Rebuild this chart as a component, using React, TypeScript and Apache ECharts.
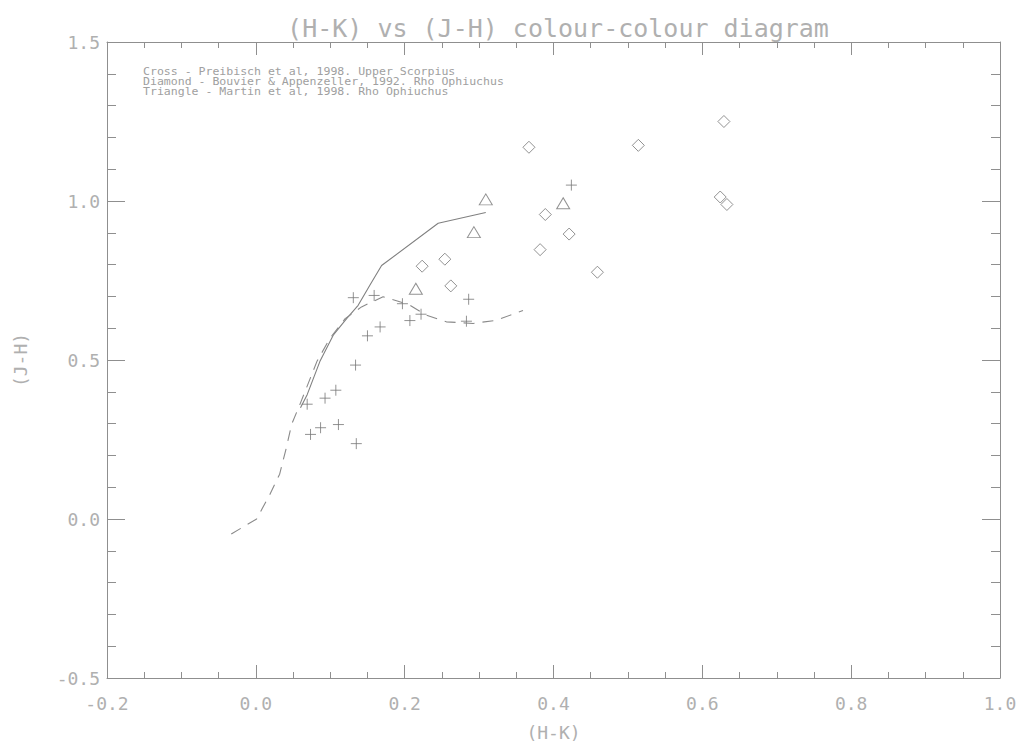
import React, { useEffect, useRef } from "react";
import * as echarts from "echarts";

const titleText = "(H-K) vs (J-H) colour-colour diagram";
const xName = "(H-K)";
const yName = "(J-H)";
const legendLines = [
  "Cross - Preibisch et al, 1998. Upper Scorpius",
  "Diamond - Bouvier & Appenzeller, 1992. Rho Ophiuchus",
  "Triangle - Martin et al, 1998. Rho Ophiuchus",
];

// Preibisch et al 1998 (crosses) [H-K, J-H]
const crosses: number[][] = [
  [0.424, 1.05], [0.286, 0.691], [0.131, 0.696], [0.159, 0.703], [0.197, 0.677],
  [0.222, 0.644], [0.207, 0.624], [0.283, 0.622], [0.167, 0.604], [0.15, 0.576],
  [0.134, 0.484], [0.1075, 0.405], [0.093, 0.38], [0.069, 0.361], [0.111, 0.297],
  [0.087, 0.287], [0.0735, 0.266], [0.135, 0.237],
];

// Bouvier & Appenzeller 1992 (diamonds)
const diamonds: number[][] = [
  [0.629, 1.25], [0.367, 1.169], [0.514, 1.175], [0.624, 1.0125], [0.633, 0.989],
  [0.389, 0.9575], [0.421, 0.896], [0.382, 0.847], [0.459, 0.776], [0.2235, 0.795],
  [0.254, 0.817], [0.262, 0.733],
];

// Martin et al 1998 (triangles)
const triangles: number[][] = [
  [0.309, 1.005], [0.413, 0.993], [0.293, 0.902], [0.215, 0.724],
];

// Giant branch (solid)
const giantLine: number[][] = [
  [0.06, 0.35], [0.069, 0.391], [0.086, 0.495], [0.104, 0.578], [0.122, 0.63],
  [0.1375, 0.672], [0.153, 0.734], [0.169, 0.797], [0.245, 0.93], [0.309, 0.964],
];

// Dwarf sequence (dashed)
const dwarfLine: number[][] = [
  [-0.033, -0.047], [0.001, 0.0], [0.019, 0.078], [0.032, 0.141], [0.041, 0.224],
  [0.048, 0.297], [0.059, 0.359], [0.082, 0.495], [0.0995, 0.568], [0.12, 0.63],
  [0.142, 0.667], [0.171, 0.699], [0.205, 0.675], [0.229, 0.641], [0.256, 0.62],
  [0.292, 0.615], [0.3235, 0.625], [0.359, 0.656],
];

const AXIS = "#8f8f8f";
const TEXT = "#b0b0b0";
const MARK = "#777777";
const MONO = "DejaVu Sans Mono";

export default function App() {
  const ref = useRef<HTMLDivElement>(null);
  useEffect(() => {
    if (!ref.current) return;
    const chart = echarts.init(ref.current, undefined, { renderer: "svg" });
    const xBase: any = {
      type: "value",
      min: -0.2,
      max: 1.0,
      interval: 0.2,
      axisLine: { show: true, onZero: false, lineStyle: { color: AXIS, width: 1 } },
      axisTick: { show: true, inside: true, length: 13, lineStyle: { color: AXIS } },
      minorTick: { show: true, splitNumber: 4, length: 6, lineStyle: { color: AXIS } },
      splitLine: { show: false },
      minorSplitLine: { show: false },
    };
    const yBase: any = {
      type: "value",
      min: -0.5,
      max: 1.5,
      interval: 0.5,
      axisLine: { show: true, onZero: false, lineStyle: { color: AXIS, width: 1 } },
      axisTick: { show: true, inside: true, length: 18, lineStyle: { color: AXIS } },
      minorTick: { show: true, splitNumber: 5, length: 9, lineStyle: { color: AXIS } },
      splitLine: { show: false },
      minorSplitLine: { show: false },
    };
    const labelStyle = {
      color: TEXT,
      fontFamily: MONO,
      fontSize: 18,
      formatter: (v: number) => v.toFixed(1),
    };
    chart.setOption({
      animation: false,
      backgroundColor: "#ffffff",
      title: {
        text: titleText,
        left: 553,
        textAlign: "center",
        top: 11,
        textStyle: { color: TEXT, fontFamily: MONO, fontSize: 25, fontWeight: "normal" },
      },
      grid: { left: 107, right: 23, top: 42, bottom: 65, containLabel: false },
      xAxis: [
        {
          ...xBase,
          position: "bottom",
          name: xName,
          nameLocation: "middle",
          nameGap: 45,
          nameTextStyle: { color: TEXT, fontFamily: MONO, fontSize: 18 },
          axisLabel: { ...labelStyle, margin: 16 },
        },
        { ...xBase, position: "top", axisLabel: { show: false } },
      ],
      yAxis: [
        {
          ...yBase,
          position: "left",
          name: yName,
          nameLocation: "middle",
          nameGap: 78,
          nameRotate: 90,
          nameTextStyle: { color: TEXT, fontFamily: MONO, fontSize: 18 },
          axisLabel: { ...labelStyle, margin: 7 },
        },
        { ...yBase, position: "right", axisLabel: { show: false } },
      ],
      graphic: legendLines.map((t, i) => ({
        type: "text",
        x: 143,
        y: 66 + i * 10,
        scaleX: 1.1,
        style: { text: t, fill: "#a0a0a0", font: `10.5px "${MONO}"` },
      })),
      series: [
        {
          type: "line",
          data: giantLine,
          showSymbol: false,
          symbol: "none",
          lineStyle: { color: "#808080", width: 1.1 },
          xAxisIndex: 0,
          yAxisIndex: 0,
        },
        {
          type: "line",
          data: dwarfLine,
          showSymbol: false,
          symbol: "none",
          lineStyle: { color: "#8a8a8a", width: 1.1, type: [11, 8] },
          xAxisIndex: 0,
          yAxisIndex: 0,
        },
        {
          type: "scatter",
          data: crosses,
          symbol: "path://M0,5 L10,5 M5,0 L5,10",
          symbolSize: 11,
          itemStyle: { color: "none", borderColor: MARK, borderWidth: 1 },
        },
        {
          type: "scatter",
          data: diamonds,
          symbol: "diamond",
          symbolSize: [12, 12],
          itemStyle: { color: "rgba(0,0,0,0)", borderColor: MARK, borderWidth: 1 },
        },
        {
          type: "scatter",
          data: triangles,
          symbol: "triangle",
          symbolSize: [13, 11],
          itemStyle: { color: "rgba(0,0,0,0)", borderColor: MARK, borderWidth: 1 },
        },
      ],
    });
    return () => chart.dispose();
  }, []);
  return (
    <div
      ref={ref}
      style={{ position: "absolute", left: 0, top: 0, width: 1023, height: 746 }}
    />
  );
}
